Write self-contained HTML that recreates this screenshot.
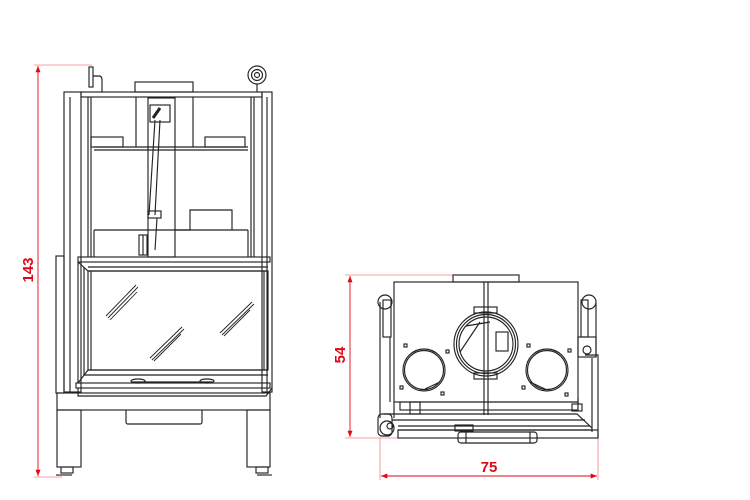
<!DOCTYPE html>
<html><head><meta charset="utf-8"><style>html,body{margin:0;padding:0;background:#fff}svg{display:block}</style></head>
<body>
<svg width="750" height="500" viewBox="0 0 750 500" xmlns="http://www.w3.org/2000/svg">
<defs>
<marker id="ar" viewBox="0 0 10 10" refX="10" refY="5" markerWidth="7" markerHeight="7" orient="auto-start-reverse"><path d="M0,1 L10,5 L0,9 z" fill="#e30613"/></marker>
</defs>
<!-- LEFT dimension -->
<g stroke="#f08088" stroke-width="0.8" fill="none">
<line x1="34" y1="65" x2="92" y2="65"/>
<line x1="34" y1="477" x2="62" y2="477"/>
</g>
<line x1="38" y1="66" x2="38" y2="476" stroke="#e30613" stroke-width="0.9" marker-start="url(#ar)" marker-end="url(#ar)"/>
<text x="0" y="0" transform="translate(33,270) rotate(-90)" text-anchor="middle" font-family="Liberation Sans, sans-serif" font-weight="bold" font-size="15" fill="#e30613">143</text>

<g stroke="#222" stroke-width="1.15" fill="none">
<!-- chimney -->
<rect x="135" y="82" width="58" height="10"/>
<!-- top bar -->
<rect x="81" y="92" width="181" height="5"/>
<!-- posts -->
<rect x="64" y="92" width="17" height="300"/>
<rect x="262" y="92" width="10" height="300"/>
<line x1="70" y1="97" x2="70" y2="392"/>
<line x1="267" y1="97" x2="267" y2="392"/>
<!-- left side panel -->
<rect x="56" y="256" width="8" height="137"/>
<!-- inner cavity -->
<line x1="88" y1="97" x2="88" y2="257"/>
<line x1="254" y1="97" x2="254" y2="257"/>
<line x1="91" y1="97" x2="91" y2="257"/>
<line x1="251" y1="97" x2="251" y2="257"/>
<line x1="94" y1="147" x2="248" y2="147"/>
<line x1="94" y1="150" x2="248" y2="150"/>
<rect x="91" y="137" width="32" height="10"/>
<rect x="205" y="137" width="40" height="10"/>
<line x1="136" y1="97" x2="136" y2="147"/>
<line x1="193" y1="97" x2="193" y2="147"/>
<!-- baffle bottom -->
<line x1="94" y1="230" x2="248" y2="230"/>
<line x1="94" y1="230" x2="94" y2="257"/>
<line x1="248" y1="230" x2="248" y2="257"/>
<polyline points="175,230 190,230 190,210 232,210 232,230"/>
<!-- vertical column -->
<rect x="148" y="98" width="27" height="159"/>
<rect x="150" y="105" width="20" height="17"/>
<line x1="153" y1="118" x2="160" y2="108" stroke-width="3"/>
<line x1="155" y1="120" x2="149" y2="215"/>
<line x1="160" y1="120" x2="155" y2="215"/>
<rect x="148" y="211" width="13" height="7"/>
<line x1="157" y1="218" x2="155" y2="250"/>
<rect x="139" y="235" width="8" height="20"/>
<line x1="143" y1="235" x2="143" y2="255"/>
<!-- upper frame band -->
<rect x="78" y="257" width="192" height="5"/>
<polyline points="78,262 88,271 268,271"/>
<line x1="88" y1="267" x2="268" y2="267"/>
<!-- glass -->
<rect x="88" y="271" width="180" height="99"/>
<line x1="91" y1="271" x2="91" y2="370"/>
<line x1="264" y1="271" x2="264" y2="370"/>
<line x1="78" y1="262" x2="78" y2="383"/>
<line x1="84" y1="267" x2="84" y2="375"/>
<!-- bottom frame -->
<polyline points="78,383 88,370 268,370"/>
<line x1="84" y1="375" x2="268" y2="375"/>
<rect x="76" y="383" width="194" height="5"/>
<polyline points="78,388 78,396 266,396 272,388"/>
<ellipse cx="138" cy="381" rx="7" ry="2"/>
<ellipse cx="207" cy="381" rx="7" ry="2"/>
<line x1="132" y1="382" x2="212" y2="382"/>
<!-- base -->
<rect x="57" y="393" width="213" height="17"/>
<rect x="57" y="410" width="24" height="57"/>
<rect x="247" y="410" width="23" height="57"/>
<path d="M126,410 V422 Q126,424 128,424 H200 Q202,424 202,422 V410"/>
<!-- feet -->
<rect x="61" y="467" width="12" height="6"/>
<rect x="256" y="467" width="12" height="6"/>
<line x1="56" y1="475" x2="72" y2="475"/>
<line x1="257" y1="475" x2="272" y2="475"/>
<!-- knob & handle -->
<circle cx="257" cy="75" r="9"/>
<circle cx="257" cy="75" r="5.5"/>
<circle cx="257" cy="75" r="2.5"/>
<line x1="257" y1="84" x2="257" y2="92"/>
<rect x="89" y="67" width="4" height="20"/>
<path d="M93,76 H99 Q102,76 102,80 V92"/>
</g>
<!-- glass hatches -->
<g stroke="#222" stroke-width="0.9">
<line x1="106" y1="316" x2="136" y2="285"/><line x1="108" y1="318" x2="138" y2="287"/><line x1="110" y1="320" x2="137" y2="292"/>
<line x1="150" y1="358" x2="182" y2="327"/><line x1="152" y1="360" x2="184" y2="329"/><line x1="154" y1="361" x2="181" y2="334"/>
<line x1="220" y1="333" x2="252" y2="302"/><line x1="222" y1="335" x2="254" y2="304"/><line x1="224" y1="336" x2="250" y2="310"/>
</g>

<!-- RIGHT dimensions -->
<g stroke="#f08088" stroke-width="0.8" fill="none">
<line x1="345" y1="275" x2="455" y2="275"/>
<line x1="345" y1="438" x2="400" y2="438"/>
<line x1="380" y1="438" x2="380" y2="480"/>
<line x1="598" y1="438" x2="598" y2="480"/>
</g>
<line x1="350" y1="276" x2="350" y2="437" stroke="#e30613" stroke-width="0.9" marker-start="url(#ar)" marker-end="url(#ar)"/>
<line x1="381" y1="476" x2="597" y2="476" stroke="#e30613" stroke-width="0.9" marker-start="url(#ar)" marker-end="url(#ar)"/>
<text x="0" y="0" transform="translate(345,355) rotate(-90)" text-anchor="middle" font-family="Liberation Sans, sans-serif" font-weight="bold" font-size="15" fill="#e30613">54</text>
<text x="489" y="472" text-anchor="middle" font-family="Liberation Sans, sans-serif" font-weight="bold" font-size="15" fill="#e30613">75</text>

<g stroke="#222" stroke-width="1.15" fill="none">
<rect x="453" y="275" width="66" height="7"/>
<rect x="394" y="282" width="184" height="120"/>
<line x1="484" y1="282" x2="484" y2="415"/>
<line x1="488" y1="282" x2="488" y2="415"/>
<!-- big flue -->
<rect x="474" y="307" width="23" height="6"/>
<rect x="474" y="373" width="23" height="6"/>
<circle cx="486" cy="344" r="32"/>
<circle cx="486" cy="344" r="29.5"/>
<circle cx="486" cy="344" r="27"/>
<line x1="466" y1="326" x2="490" y2="322"/>
<line x1="460" y1="352" x2="480" y2="322"/>
<rect x="496" y="332" width="12" height="19"/>
<!-- small circles -->
<circle cx="424" cy="370" r="21"/>
<circle cx="424" cy="370" r="19.5"/>
<line x1="425" y1="389" x2="440" y2="382"/>
<circle cx="547" cy="370" r="21"/>
<circle cx="547" cy="370" r="19.5"/>
<line x1="545" y1="389" x2="530" y2="382"/>
<!-- small squares -->
<rect x="404" y="344" width="3" height="3"/><rect x="446" y="350" width="3" height="3"/>
<rect x="400" y="386" width="3" height="3"/><rect x="441" y="392" width="3" height="3"/>
<rect x="527" y="344" width="3" height="3"/><rect x="568" y="349" width="3" height="3"/>
<rect x="522" y="386" width="3" height="3"/><rect x="565" y="393" width="3" height="3"/>
<!-- side rails left -->
<circle cx="385" cy="302" r="7"/>
<rect x="383" y="300" width="8" height="37"/>
<line x1="380" y1="302" x2="380" y2="418"/>
<line x1="390" y1="337" x2="390" y2="402"/>
<!-- side rails right -->
<circle cx="589" cy="302" r="7"/>
<rect x="581" y="300" width="7" height="37"/>
<rect x="578" y="337" width="18" height="20"/>
<circle cx="587" cy="350" r="4"/>
<line x1="596" y1="302" x2="596" y2="357"/>
<path d="M585,355 H598 V438"/>
<line x1="592" y1="358" x2="592" y2="432"/>
<!-- bottom assembly -->
<line x1="394" y1="402" x2="394" y2="418"/>
<rect x="400" y="402" width="178" height="8"/>
<rect x="410" y="402" width="10" height="12"/>
<path d="M384,414 H577 L592,428"/>
<line x1="392" y1="420" x2="585" y2="420"/>
<rect x="378" y="414" width="14" height="22" rx="4"/>
<circle cx="387" cy="428" r="7"/>
<circle cx="390" cy="426" r="3"/>
<line x1="398" y1="426" x2="590" y2="426"/>
<line x1="398" y1="430" x2="592" y2="430"/>
<rect x="398" y="430" width="200" height="8"/>
<rect x="455" y="425" width="18" height="6"/>
<rect x="458" y="432" width="79" height="11" rx="3"/>
<line x1="466" y1="432" x2="466" y2="443"/>
<line x1="530" y1="432" x2="530" y2="443"/>
<rect x="572" y="404" width="10" height="7"/>
<line x1="578" y1="398" x2="578" y2="404"/>
</g>
</svg>
</body></html>
